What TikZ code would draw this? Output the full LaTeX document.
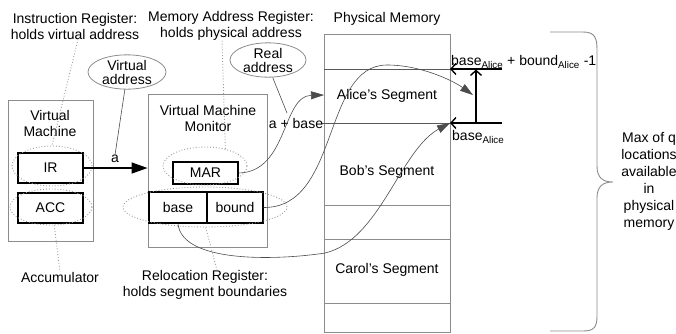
\documentclass[tikz,border=0pt]{standalone}
\usepackage{fontspec}
\setmainfont{Liberation Sans}
\usetikzlibrary{arrows.meta,shapes.geometric}
\definecolor{boxgray}{HTML}{8C8C8C}
\definecolor{dotgray}{HTML}{9A9A9A}
\begin{document}
\begin{tikzpicture}[x=1pt,y=-1pt,
  txt/.style={font=\fontsize{14}{16}\selectfont, align=center, inner sep=0pt},
  frame/.style={draw=boxgray, line width=0.9pt},
  reg/.style={draw=black, line width=1.4pt, font=\fontsize{14}{16}\selectfont, inner sep=0pt, minimum width=65pt, minimum height=30pt},
  dotell/.style={draw=dotgray, dotted, line width=0.9pt, ellipse, inner sep=0pt},
  dotline/.style={draw=dotgray, dotted, line width=0.9pt},
  bubble/.style={draw=boxgray, line width=0.8pt, ellipse, inner sep=0pt, font=\fontsize{14}{16}\selectfont, align=center},
  thin/.style={draw=black!70, line width=0.6pt},
  fillarrow/.style={-{Triangle[length=13pt,width=8pt]}},
  openarrow/.style={-{Straight Barb[length=5pt,width=11pt]}, line width=1.4pt}
]
\useasboundingbox (0,0) rectangle (676,333);

% frames
\node[frame, minimum width=85pt, minimum height=141pt, inner sep=0pt] (vm) at (50.5,170.5) {};
\node[frame, minimum width=119pt, minimum height=153pt, inner sep=0pt] (vmm) at (207.5,170.5) {};
\node[frame, minimum width=126pt, minimum height=298pt, inner sep=0pt] (mem) at (387,183) {};

% memory dividers
\draw[draw=black!65, line width=0.9pt] (324,69) -- (450,69);
\draw[draw=black!65, line width=0.9pt] (322,123) -- (450,123);
\draw[frame] (324,205) -- (450,205);
\draw[frame] (324,239) -- (450,239);
\draw[frame] (324,303) -- (450,303);

% texts
\node[txt] (instr) at (75,26) {Instruction Register:\\holds virtual address};
\node[txt] (marlabel) at (231,26) {Memory Address Register:\\holds physical address};
\node[txt] (phys) at (387,19) {Physical Memory};
\node[txt] (vmtxt) at (50,123) {Virtual\\Machine};
\node[txt] (vmmtxt) at (208,118) {Virtual Machine\\Monitor};
\node[txt] (accum) at (60,277) {Accumulator};
\node[txt] (reloc) at (205,285) {Relocation Register:\\holds segment boundaries};
\node[txt] (alice) at (387,96) {Alice’s Segment};
\node[txt] (bob) at (387,172) {Bob’s Segment};
\node[txt] (carol) at (387,270) {Carol’s Segment};
\node[txt, font=\fontsize{14}{17}\selectfont] (maxq) at (649,181) {Max of q\\locations\\available\\in\\physical\\memory};

% registers
\node[reg] (ir) at (50.5,168) {IR};
\node[reg] (acc) at (50.5,208) {ACC};
\node[reg, minimum height=22pt] (mar) at (205.5,173) {MAR};
\node[reg, minimum width=58pt, minimum height=31pt] (base) at (178,207.5) {base};
\node[reg, minimum width=56pt, minimum height=31pt] (bound) at (235,207.5) {bound};

% dotted ellipses
\node[dotell, minimum width=80pt, minimum height=40pt] (irell) at (52,166) {};
\node[dotell, minimum width=82pt, minimum height=36pt] (accell) at (51,207) {};
\node[dotell, minimum width=84pt, minimum height=38pt] (marell) at (205,166) {};
\node[dotell, minimum width=164pt, minimum height=40pt] (bbell) at (205,207) {};

% dotted leaders
\draw[dotline] ([xshift=3pt]instr.south) -- (irell.north);
\draw[dotline] ([xshift=-9pt]marlabel.south) -- (marell.40);
\draw[dotline] (accell.-80) -- (accum.north);
\draw[dotline] (bbell.-88) -- ([xshift=12pt]reloc.north);

% bubbles
\node[bubble, minimum width=78pt, minimum height=34pt] (vaddr) at (127,72) {Virtual\\[-2pt]address};
\node[bubble, minimum width=76pt, minimum height=34pt] (raddr) at (268,60) {Real\\[-2pt]address};
\node[txt] (alab) at (115,159) {a};
\node[txt] (apb) at (296,123) {a + base};
\draw[thin] (vaddr.-97) -- (alab.north);
\coordinate (apbtop) at (287,113);
\draw[thin] (raddr.-75) -- (apbtop);

% IR -> MAR
\draw[line width=1.5pt, -{Triangle[length=16pt,width=11pt]}] (ir.east) -- (ir.east -| vmm.west);

% curves to memory
\draw[thin, fillarrow] (mar.east) .. controls (288,172) and (282,96) .. (324,95);
\coordinate (aliceTop) at (473,95);
\draw[thin, fillarrow] (bound.east) .. controls (340,208) and (322,65) .. (387,65) .. controls (420,65) and (452,80) .. (aliceTop);
\coordinate (aliceBase) at (450,123);
\draw[thin, fillarrow] (base.south) .. controls (182,264) and (280,260) .. (325,253) .. controls (380,240) and (400,150) .. (aliceBase);

% base/bound markers
\coordinate (topR) at (502,69);
\coordinate (topL) at (450,69);
\coordinate (botR) at (502,123);
\coordinate (vbot) at (476,123);
\coordinate (vtop) at (476,69.5);
\draw[openarrow] (topR) -- (topL);
\draw[openarrow] (botR) -- (aliceBase);
\draw[openarrow] (vbot) -- (vtop);
\node[txt, anchor=west] (toplab) at (451,62) {base\textsubscript{Alice} + bound\textsubscript{Alice} -1};
\node[txt, anchor=west] (botlab) at (452,137) {base\textsubscript{Alice}};

% brace
\draw[draw=boxgray, line width=0.9pt] (550,32) -- (583,32) .. controls (595,32) and (597,38) .. (597,50) -- (597,166) .. controls (597,178) and (603,182) .. (613,182) .. controls (603,182) and (597,186) .. (597,198) -- (597,316) .. controls (597,327) and (594,331) .. (583,331) -- (550,331);
\end{tikzpicture}
\end{document}
